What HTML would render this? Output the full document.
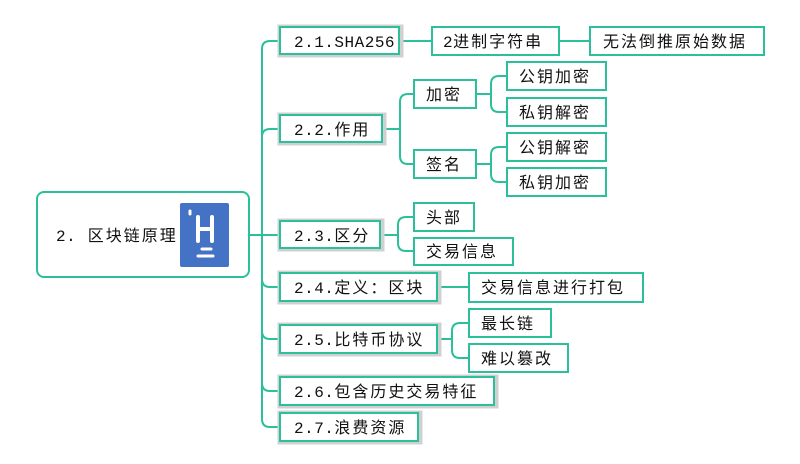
<!DOCTYPE html>
<html><head><meta charset="utf-8"><style>
html,body{margin:0;padding:0;background:#fff;width:800px;height:464px;overflow:hidden}
text{font-family:"Liberation Mono","WenQuanYi Zen Hei",monospace;font-size:16px;fill:#111;letter-spacing:2px}
tspan.l{letter-spacing:0.5px}
</style></head><body>
<svg width="800" height="464" xmlns="http://www.w3.org/2000/svg">
<g fill="none" stroke="#2bbf9b" stroke-width="2">
<path d="M249,235 H262"/>
<path d="M262,235 V49 Q262,41 270,41 H280"/>
<path d="M262,235 V137 Q262,129 270,129 H280"/>
<path d="M262,235 H280"/>
<path d="M262,235 V279 Q262,287 270,287 H280"/>
<path d="M262,235 V331 Q262,339 270,339 H280"/>
<path d="M262,235 V383 Q262,391 270,391 H280"/>
<path d="M262,235 V419 Q262,427 270,427 H280"/>
<path d="M401,41 H432"/><path d="M559,41 H590"/><path d="M439,287 H469"/>
<path d="M384,129 H400"/>
<path d="M400,129 V102 Q400,94 408,94 H414"/>
<path d="M400,129 V156 Q400,164 408,164 H414"/>
<path d="M476,94 H491"/>
<path d="M491,94 V84 Q491,76 499,76 H507"/>
<path d="M491,94 V104 Q491,112 499,112 H507"/>
<path d="M476,164 H491"/>
<path d="M491,164 V155 Q491,147 499,147 H507"/>
<path d="M491,164 V174 Q491,182 499,182 H507"/>
<path d="M382,235 H398"/>
<path d="M398,235 V225 Q398,217 406,217 H414"/>
<path d="M398,235 V243 Q398,251 406,251 H414"/>
<path d="M439,339 H452"/>
<path d="M452,339 V331 Q452,323 460,323 H469"/>
<path d="M452,339 V350 Q452,358 460,358 H469"/>
</g>
<rect x="37" y="192" width="212" height="85" rx="7" fill="#fff" stroke="#2bbf9b" stroke-width="2"/>
<text x="56" y="241"><tspan class="l">2.</tspan> 区块链原理</text>
<rect x="180" y="203" width="49" height="64" rx="2" fill="#4472c4"/>
<g stroke="#fff" stroke-linecap="round" fill="none">
<path d="M190,211 V214" stroke-width="3"/>
<path d="M198,217 V241 M212,217 V241 M198,229 H212" stroke-width="4"/>
<path d="M202,249 H211" stroke-width="3"/>
<path d="M198,256 H213" stroke-width="3"/>
</g>
<g fill="#fff">
<g stroke="#d0d0d0" stroke-width="5">
<rect x="280" y="27" width="121" height="28"/>
<rect x="280" y="115" width="104" height="28"/>
<rect x="280" y="221" width="102" height="28"/>
<rect x="280" y="273" width="159" height="29"/>
<rect x="280" y="325" width="159" height="29"/>
<rect x="280" y="377" width="216" height="29"/>
<rect x="280" y="413" width="140" height="29"/>
</g>
<g stroke="#2bbf9b" stroke-width="2" fill="#fff">
<rect x="280" y="27" width="119" height="27"/>
<rect x="280" y="115" width="102" height="27"/>
<rect x="280" y="221" width="100" height="27"/>
<rect x="280" y="273" width="157" height="28"/>
<rect x="280" y="325" width="157" height="28"/>
<rect x="280" y="377" width="214" height="28"/>
<rect x="280" y="413" width="138" height="28"/>
</g>
<g stroke="#2bbf9b" stroke-width="2">
<rect x="432" y="27" width="127" height="28"/>
<rect x="590" y="27" width="174" height="28"/>
<rect x="414" y="80" width="62" height="28"/>
<rect x="414" y="150" width="62" height="28"/>
<rect x="507" y="62" width="99" height="28"/>
<rect x="507" y="98" width="99" height="28"/>
<rect x="507" y="133" width="99" height="28"/>
<rect x="507" y="168" width="99" height="28"/>
<rect x="414" y="203" width="60" height="28"/>
<rect x="414" y="238" width="99" height="27"/>
<rect x="469" y="273" width="174" height="29"/>
<rect x="469" y="309" width="82" height="28"/>
<rect x="469" y="344" width="99" height="28"/>
</g>
</g>
<text x="294" y="47"><tspan class="l">2.1.SHA256</tspan></text>
<text x="294" y="135"><tspan class="l">2.2.</tspan>作用</text>
<text x="294" y="241"><tspan class="l">2.3.</tspan>区分</text>
<text x="294" y="293"><tspan class="l">2.4.</tspan>定义：区块</text>
<text x="294" y="345"><tspan class="l">2.5.</tspan>比特币协议</text>
<text x="294" y="397"><tspan class="l">2.6.</tspan>包含历史交易特征</text>
<text x="294" y="433"><tspan class="l">2.7.</tspan>浪费资源</text>
<text x="443" y="47"><tspan class="l">2</tspan>进制字符串</text>
<text x="603" y="47">无法倒推原始数据</text>
<text x="426" y="100">加密</text>
<text x="426" y="170">签名</text>
<text x="519" y="82">公钥加密</text>
<text x="519" y="118">私钥解密</text>
<text x="519" y="153">公钥解密</text>
<text x="519" y="188">私钥加密</text>
<text x="426" y="223">头部</text>
<text x="426" y="257">交易信息</text>
<text x="481" y="293">交易信息进行打包</text>
<text x="481" y="329">最长链</text>
<text x="481" y="364">难以篡改</text>
</svg>
</body></html>
